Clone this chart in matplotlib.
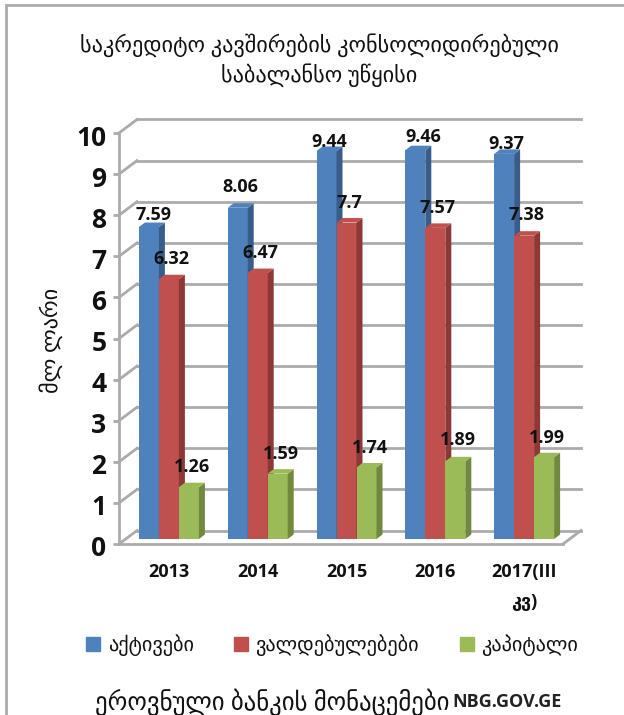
from matplotlib import pyplot as plt
from matplotlib.patches import Patch, Rectangle
from matplotlib.transforms import ScaledTranslation

years = ['2013', '2014', '2015', '2016', '2017(III\nკვ)']
assets = [7.59, 8.06, 9.44, 9.46, 9.37]
liabilities = [6.32, 6.47, 7.7, 7.57, 7.38]
capital = [1.26, 1.59, 1.74, 1.89, 1.99]
names = ['აქტივები', 'ვალდებულებები', 'კაპიტალი']
yticks = list(range(11))

W, H = 624, 715
# fake 3d, sizes in pixels
unit_x, unit_y = 88.8, 41.1
wall_dx, wall_dy = 18 / unit_x, 13.5 / unit_y
bar_lift = 5 / unit_y
side_dx, side_dy = 6 / unit_x, 4.5 / unit_y
bar_w = 20 / unit_x

colors = ['#4f81bd', '#c0504d', '#9bbb59']
sides = ['#385d8a', '#8c3836', '#71893f']
grey = '#ababab'

# manual label offsets (px), like the hand placed ones in the original
label_dx = [[5, 3, 3, 8, 2], [3, 3, 3, 2, 2], [3, 3, 3, 3, 3]]
label_up = [[12, 21, 9, 13, 10], [20, 20, 20, 20, 21], [20, 20, 19, 21, 19]]

plt.rcParams['font.family'] = ['Open Sans', 'DejaVu Sans']

fig = plt.figure(figsize=(W / 100, H / 100), dpi=100)
ax = fig.add_axes([119 / W, 1 - 544 / H, 444 / W, 411 / H])
ax.set_xlim(0, len(years))
ax.set_ylim(0, 10)
ax.patch.set_visible(False)

# frame of the picture, only left and top show
fig.add_artist(Rectangle((6 / W, -0.1), 1.1, 1.1 - 5 / H, transform=fig.transFigure,
                         fill=False, ec=grey, lw=2))

# walls and floor
for v in yticks:
    ax.plot([wall_dx, len(years) + wall_dx], [v + wall_dy, v + wall_dy], color=grey, lw=2,
            clip_on=False, zorder=1)
    ax.plot([0, wall_dx], [v, v + wall_dy], color=grey, lw=2, clip_on=False, zorder=1)
ax.plot([len(years), len(years) + wall_dx], [0, wall_dy], color=grey, lw=2, clip_on=False, zorder=1)

for s, series in enumerate([assets, liabilities, capital]):
    for i, v in enumerate(series):
        left = i + 0.5 + (s - 1.5) * bar_w + 5.5 / unit_x
        top = v + bar_lift
        ax.bar(left, v, bar_w, bottom=bar_lift, align='edge', color=colors[s], zorder=3 + s,
               clip_on=False)
        ax.fill([left + bar_w, left + bar_w + side_dx, left + bar_w + side_dx, left + bar_w],
                [bar_lift, bar_lift + side_dy, top + side_dy, top],
                color=sides[s], lw=0, zorder=3 + s, clip_on=False)
        ax.fill([left, left + side_dx, left + bar_w + side_dx, left + bar_w],
                [top, top + side_dy, top + side_dy, top],
                color=colors[s], lw=0, zorder=3 + s, clip_on=False)
        ax.annotate(str(v), (left + bar_w / 2, top), zorder=10,
                    xytext=(label_dx[s][i] * 0.72, label_up[s][i] * 0.72), textcoords='offset points',
                    ha='center', va='center', fontsize=13, fontweight='bold', color='#111111',
                    annotation_clip=False)

for side in ['top', 'right']:
    ax.spines[side].set_visible(False)
for side in ['left', 'bottom']:
    ax.spines[side].set_color(grey)
    ax.spines[side].set_linewidth(2)
    ax.spines[side].set_zorder(2)

ax.set_yticks(yticks)
ax.tick_params(axis='y', length=4, width=2, color=grey, labelsize=19, pad=5)
nudge = ScaledTranslation(0, -2 / 100, fig.dpi_scale_trans)
for t in ax.get_yticklabels():
    t.set_fontweight('bold')
    t.set_color('#111111')
    t.set_transform(t.get_transform() + nudge)

ax.set_xticks([i + 0.5 + 5.5 / unit_x for i in range(len(years))])
ax.set_xticklabels(years, fontsize=13, fontweight='bold', color='#111111', linespacing=1.85)
for t in ax.get_xticklabels():
    t.set_verticalalignment('top')
ax.tick_params(axis='x', length=0, pad=14)

fig.text(51 / W, 1 - 340 / H, 'მლ ლარი', rotation=90, ha='center', va='center', fontsize=16,
         color='#111111')

fig.text(319 / W, 1 - 45 / H, 'საკრედიტო კავშირების კონსოლიდირებული', ha='center', va='center',
         fontsize=16, color='#111111')
fig.text(319 / W, 1 - 75 / H, 'საბალანსო უწყისი', ha='center', va='center', fontsize=16,
         color='#111111')

handles = [Patch(color=c) for c in colors]
fig.legend(handles, names, ncols=3, loc='center', bbox_to_anchor=(332 / W, 1 - 645 / H), frameon=False,
           fontsize=14.6, handlelength=0.7, handleheight=0.7, handletextpad=0.35, columnspacing=2.0,
           labelcolor='#111111')

fig.text(95 / W, 1 - 702 / H, 'ეროვნული ბანკის მონაცემები', ha='left', va='center', fontsize=17.8,
         color='#111111')
fig.text(452 / W, 1 - 702 / H, 'NBG.GOV.GE', ha='left', va='center', fontsize=13, fontweight='bold',
         color='#222222')

fig.savefig('out.png', dpi=100)
